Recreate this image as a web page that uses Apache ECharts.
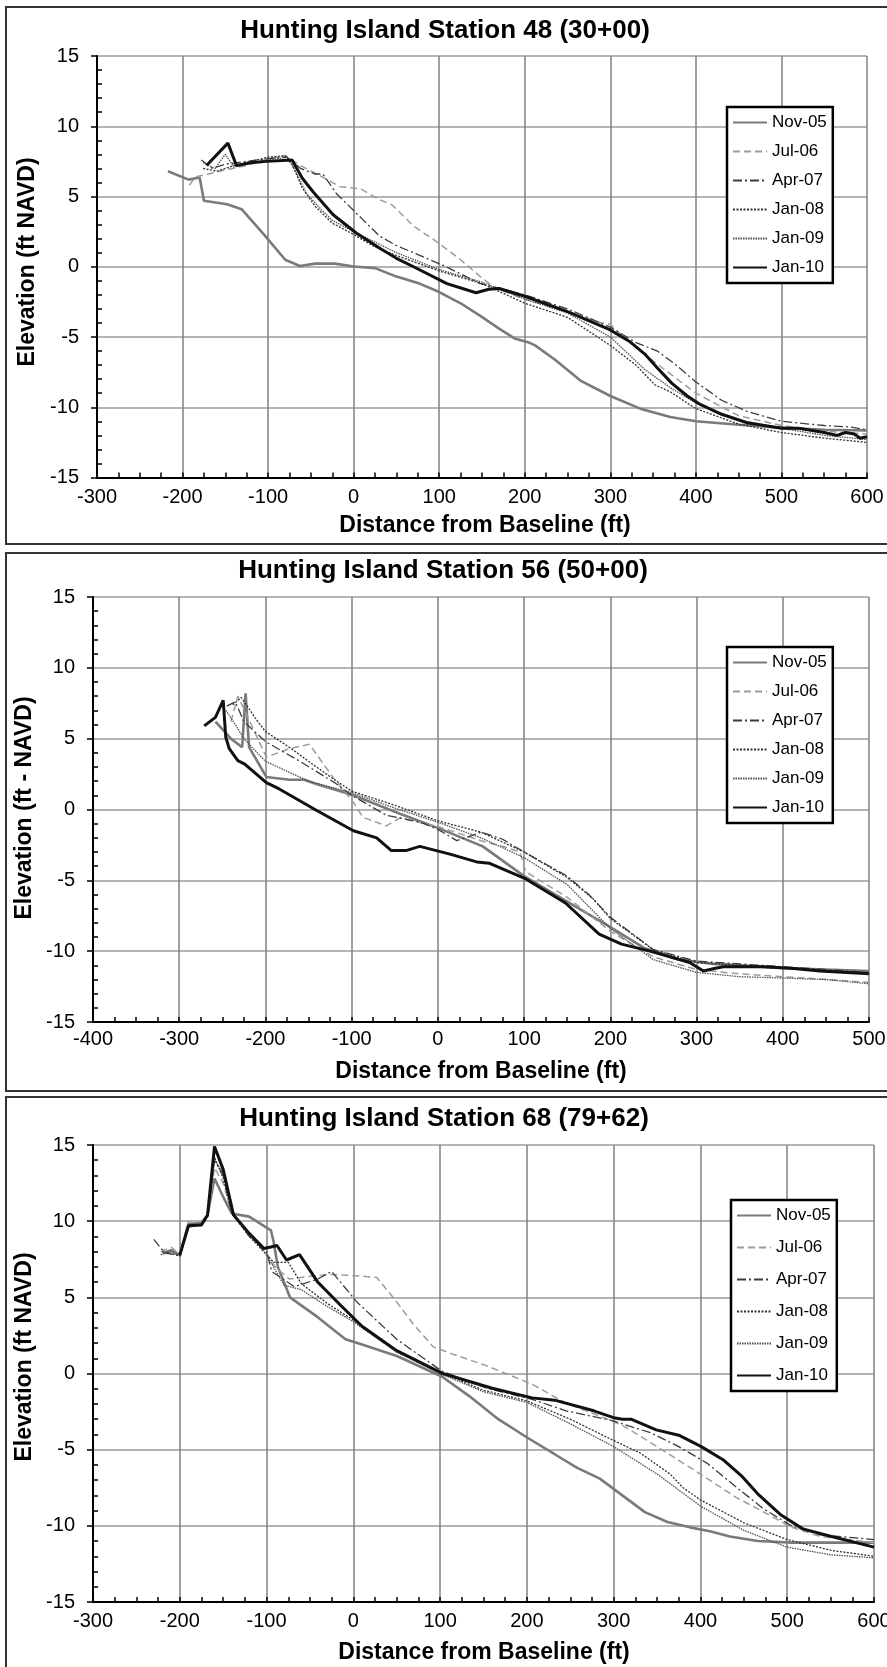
<!DOCTYPE html>
<html>
<head>
<meta charset="utf-8">
<script src="https://cdn.jsdelivr.net/npm/echarts@6/dist/echarts.min.js"></script>
<style>
html,body{margin:0;padding:0;background:#fff;}
#chart{width:887px;height:1667px;}
</style>
</head>
<body>
<div id="chart"></div>
<script>
// ---------- categories / tick labels ----------
const seriesNames = ['Nov-05', 'Jul-06', 'Apr-07', 'Jan-08', 'Jan-09', 'Jan-10'];
const yTicks = [-15, -10, -5, 0, 5, 10, 15];
const xTicks48 = [-300, -200, -100, 0, 100, 200, 300, 400, 500, 600];
const xTicks56 = [-400, -300, -200, -100, 0, 100, 200, 300, 400, 500];
const xTicks68 = [-300, -200, -100, 0, 100, 200, 300, 400, 500, 600];
const titles = ['Hunting Island Station 48 (30+00)', 'Hunting Island Station 56 (50+00)', 'Hunting Island Station 68 (79+62)'];
const yTitles = ['Elevation (ft NAVD)', 'Elevation (ft - NAVD)', 'Elevation (ft NAVD)'];
const xTitle = 'Distance from Baseline (ft)';

// ---------- Station 48 ----------
const nov05_48 = [[-217,6.8],[-193,6.2],[-180,6.35],[-175,4.7],[-148,4.45],[-131,4.1],[-105,2.3],[-80,0.5],[-63,0.05],[-45,0.22],[-22,0.22],[0,0.02],[25,-0.1],[50,-0.7],[75,-1.15],[100,-1.8],[125,-2.6],[148,-3.5],[170,-4.4],[188,-5.1],[205,-5.4],[212,-5.6],[235,-6.6],[265,-8.1],[300,-9.2],[335,-10.1],[370,-10.7],[400,-11.0],[450,-11.25],[500,-11.45],[550,-11.6],[600,-11.65]];
const jul06_48 = [[-192,5.8],[-185,6.4],[-170,6.6],[-150,6.9],[-125,7.2],[-100,7.7],[-80,7.9],[-62,7.2],[-40,6.5],[-16,5.7],[8,5.55],[31,4.75],[45,4.4],[70,2.9],[99,1.7],[125,0.5],[148,-0.7],[165,-1.5],[200,-2.3],[250,-3.2],[290,-4.0],[300,-4.1],[312,-4.8],[350,-6.7],[400,-9.0],[450,-10.6],[500,-11.3],[550,-11.7],[600,-11.9]];
const apr07_48 = [[-178,7.6],[-165,7.0],[-150,7.3],[-125,7.5],[-100,7.7],[-78,7.8],[-62,7.0],[-45,6.6],[-36,6.6],[-20,5.2],[0,4.0],[30,2.2],[50,1.5],[70,1.0],[108,0.0],[148,-1.2],[175,-1.6],[200,-2.0],[250,-3.0],[300,-4.3],[330,-5.4],[355,-6.0],[375,-6.9],[400,-8.2],[430,-9.5],[460,-10.3],[500,-11.0],[550,-11.3],[580,-11.4],[600,-11.6]];
const jan08_48 = [[-176,7.0],[-160,6.8],[-140,7.2],[-120,7.5],[-100,7.8],[-80,7.9],[-72,7.3],[-60,5.6],[-45,4.3],[-25,3.1],[0,2.3],[25,1.4],[50,0.8],[100,-0.3],[150,-1.2],[200,-2.6],[250,-3.6],[300,-5.6],[330,-7.0],[352,-8.4],[370,-8.9],[400,-10.1],[450,-11.2],[500,-11.8],[550,-12.2],[600,-12.5]];
const jan09_48 = [[-176,7.4],[-162,7.0],[-150,8.0],[-140,7.1],[-120,7.4],[-100,7.6],[-78,7.8],[-68,6.8],[-55,5.2],[-40,4.2],[-25,3.3],[0,2.5],[50,1.0],[100,-0.2],[150,-1.1],[200,-2.3],[250,-3.3],[300,-5.0],[340,-7.3],[370,-8.6],[400,-9.7],[450,-10.9],[500,-11.5],[550,-12.0],[600,-12.3]];
const jan10_48 = [[-172,7.2],[-147,8.8],[-137,7.2],[-120,7.4],[-102,7.5],[-72,7.6],[-60,6.3],[-47,5.3],[-24,3.7],[3,2.4],[31,1.3],[50,0.6],[70,0.0],[109,-1.2],[143,-1.85],[158,-1.6],[170,-1.55],[200,-2.1],[250,-3.2],[300,-4.5],[322,-5.3],[340,-6.2],[355,-7.2],[372,-8.3],[390,-9.2],[405,-9.8],[430,-10.5],[460,-11.1],[500,-11.5],[520,-11.5],[550,-11.8],[565,-12.0],[575,-11.8],[585,-11.9],[592,-12.2],[600,-12.1]];

// ---------- Station 56 ----------
const nov05_56 = [[-258,6.2],[-240,5.0],[-227,4.4],[-223,8.2],[-219,4.4],[-199,2.3],[-172,2.1],[-155,2.1],[-141,1.8],[-98,1.0],[-44,-0.3],[2,-1.35],[52,-2.6],[100,-4.7],[150,-6.5],[200,-8.3],[240,-9.8],[280,-10.6],[320,-10.9],[350,-11.0],[400,-11.2],[450,-11.3],[500,-11.4]];
const jul06_56 = [[-240,6.2],[-232,8.0],[-215,5.8],[-199,3.7],[-172,4.3],[-149,4.6],[-122,2.3],[-98,0.5],[-87,-0.55],[-60,-1.15],[-44,-0.6],[0,-1.2],[50,-2.2],[75,-2.6],[95,-3.0],[102,-4.4],[150,-6.2],[200,-8.6],[250,-10.4],[300,-11.3],[350,-11.6],[400,-11.8],[450,-12.0],[500,-12.2]];
const apr07_56 = [[-245,7.3],[-235,7.6],[-225,6.2],[-200,4.8],[-160,3.4],[-120,1.9],[-100,1.0],[-60,-0.4],[-20,-0.9],[0,-1.4],[22,-2.2],[50,-1.6],[75,-2.1],[100,-3.0],[150,-4.7],[175,-6.0],[200,-7.6],[250,-9.9],[300,-10.7],[350,-10.9],[400,-11.1],[450,-11.3],[500,-11.5]];
const jan08_56 = [[-238,7.4],[-228,7.9],[-210,6.3],[-200,5.5],[-170,4.3],[-150,3.4],[-120,2.1],[-100,1.3],[-50,0.3],[0,-0.8],[50,-1.6],[100,-3.0],[150,-4.8],[180,-6.3],[200,-7.7],[250,-9.9],[300,-10.8],[350,-11.0],[400,-11.2],[450,-11.4],[500,-11.5]];
const jan09_56 = [[-246,7.0],[-235,6.0],[-225,5.0],[-200,3.4],[-150,2.0],[-100,1.2],[-50,0.1],[0,-0.9],[50,-2.0],[100,-3.4],[150,-5.3],[200,-8.4],[250,-10.6],[300,-11.5],[350,-11.8],[400,-11.9],[450,-12.0],[500,-12.3]];
const jan10_56 = [[-271,5.9],[-258,6.5],[-249,7.7],[-246,5.1],[-242,4.3],[-232,3.45],[-224,3.2],[-199,1.9],[-184,1.45],[-141,-0.05],[-98,-1.5],[-71,-2.0],[-54,-2.9],[-37,-2.9],[-21,-2.6],[14,-3.15],[45,-3.7],[60,-3.8],[102,-4.9],[148,-6.6],[187,-8.8],[213,-9.5],[246,-10.0],[292,-10.8],[308,-11.4],[322,-11.2],[331,-11.1],[377,-11.1],[410,-11.2],[443,-11.4],[500,-11.6]];

// ---------- Station 68 ----------
const nov05_68 = [[-220,7.9],[-210,8.1],[-200,7.8],[-190,9.8],[-175,9.9],[-168,10.4],[-160,12.8],[-150,11.6],[-140,10.5],[-120,10.3],[-95,9.4],[-92,8.7],[-87,7.0],[-73,5.0],[-41,3.7],[-28,3.1],[-9,2.25],[10,1.9],[50,1.15],[102,-0.2],[134,-1.5],[167,-3.0],[203,-4.3],[232,-5.3],[258,-6.2],[284,-6.9],[310,-8.0],[336,-9.1],[362,-9.75],[388,-10.1],[411,-10.35],[434,-10.7],[466,-11.0],[505,-11.1],[600,-11.1]];
const jul06_68 = [[-222,8.0],[-210,8.3],[-200,7.8],[-190,10.0],[-175,9.8],[-168,10.3],[-160,13.5],[-150,12.5],[-140,10.5],[-120,9.1],[-100,7.9],[-90,7.0],[-74,6.2],[-55,6.35],[-29,6.5],[-3,6.45],[27,6.3],[50,4.7],[69,3.25],[92,1.75],[115,1.26],[154,0.5],[206,-0.7],[245,-1.95],[284,-2.8],[310,-3.4],[343,-4.55],[375,-5.7],[408,-6.9],[440,-8.1],[473,-9.1],[505,-10.1],[538,-10.7],[600,-11.1]];
const apr07_68 = [[-230,8.8],[-217,7.9],[-200,7.75],[-190,9.6],[-175,9.8],[-168,10.2],[-160,14.0],[-150,13.0],[-140,10.6],[-120,9.0],[-100,8.0],[-94,6.7],[-68,5.7],[-41,6.2],[-25,6.7],[4,4.7],[50,2.25],[102,0.15],[154,-0.97],[206,-1.7],[245,-2.45],[297,-3.07],[343,-3.9],[375,-4.8],[408,-5.9],[440,-7.4],[473,-8.9],[505,-10.0],[538,-10.6],[600,-10.9]];
const jan08_68 = [[-220,8.0],[-210,7.9],[-200,7.7],[-190,9.7],[-175,9.8],[-168,10.4],[-160,14.2],[-150,12.8],[-140,10.5],[-120,9.0],[-100,7.8],[-92,7.3],[-75,7.3],[-60,5.9],[-30,4.6],[0,3.5],[50,1.5],[100,0.1],[150,-1.1],[200,-1.8],[250,-3.0],[300,-4.4],[330,-5.2],[350,-6.0],[365,-6.6],[380,-7.5],[400,-8.3],[450,-9.8],[500,-10.9],[550,-11.6],[600,-12.0]];
const jan09_68 = [[-222,7.8],[-210,8.0],[-200,7.7],[-190,9.8],[-175,9.8],[-168,10.3],[-160,14.0],[-150,13.2],[-140,10.6],[-120,9.2],[-100,7.8],[-80,5.8],[-60,5.5],[-30,4.4],[0,3.4],[50,1.4],[100,0.0],[150,-1.2],[200,-1.9],[250,-3.3],[300,-4.8],[350,-6.6],[400,-8.7],[450,-10.3],[500,-11.4],[550,-11.9],[600,-12.1]];
const jan10_68 = [[-200,7.75],[-190,9.7],[-175,9.75],[-168,10.4],[-160,14.9],[-150,13.4],[-138,10.4],[-120,9.2],[-103,8.2],[-95,8.3],[-88,8.4],[-77,7.45],[-62,7.8],[-41,6.0],[-15,4.5],[10,3.1],[50,1.5],[102,0.02],[160,-0.97],[206,-1.6],[232,-1.75],[277,-2.45],[300,-2.9],[310,-3.0],[320,-3.0],[349,-3.7],[375,-4.05],[401,-4.8],[427,-5.7],[447,-6.7],[466,-7.9],[492,-9.25],[518,-10.2],[551,-10.7],[600,-11.4]];

// ---------- layout / style ----------
const FONT = '"Liberation Sans", Arial, Helvetica, sans-serif';
const panels = [
  {grid:{left:97, top:56, width:770, height:421.5}, xTicks:xTicks48, xMargin:10, legend:{left:727, top:107, gap:12},
   title:[445,31], xT:[485,526], yT:[28,262], box:[6,7,900,537],
   data:[nov05_48, jul06_48, apr07_48, jan08_48, jan09_48, jan10_48]},
  {grid:{left:93, top:597, width:776, height:425}, xTicks:xTicks56, xMargin:7, legend:{left:727, top:647, gap:12},
   title:[443,571], xT:[481,1072], yT:[25,808], box:[6,553,900,538],
   data:[nov05_56, jul06_56, apr07_56, jan08_56, jan09_56, jan10_56]},
  {grid:{left:93, top:1145, width:781, height:457}, xTicks:xTicks68, xMargin:9, legend:{left:731, top:1200, gap:15},
   title:[444,1119], xT:[484,1653], yT:[25,1357], box:[6,1097,900,620],
   data:[nov05_68, jul06_68, apr07_68, jan08_68, jan09_68, jan10_68]}
];
const lineStyles = [
  {color:'#7a7a7a', width:2.6, type:'solid'},
  {color:'#9c9c9c', width:1.5, type:[7,4]},
  {color:'#3c3c3c', width:1.3, type:[9,3,2,3]},
  {color:'#303030', width:1.3, type:[2,1.5]},
  {color:'#505050', width:1.3, type:[1.5,1]},
  {color:'#111111', width:3, type:'solid'}
];

const grids = [], xAxes = [], yAxes = [], series = [], legends = [], graphics = [];
panels.forEach((p, i) => {
  grids.push(Object.assign({containLabel:false, outerBoundsMode:'none'}, p.grid));
  const xt = p.xTicks;
  xAxes.push({
    gridIndex:i, type:'value', min:xt[0], max:xt[xt.length-1], interval:xt[1]-xt[0],
    axisLine:{show:true, onZero:false, lineStyle:{color:'#000', width:2}},
    axisTick:{show:true, inside:true, length:5, lineStyle:{color:'#000', width:1.5}},
    minorTick:{show:true, splitNumber:4, length:5, lineStyle:{color:'#000', width:1.5}},
    splitLine:{show:true, showMinLine:false, lineStyle:{color:'#808080', width:1.5}},
    axisLabel:{margin:p.xMargin, fontSize:20, color:'#000', fontFamily:FONT, hideOverlap:false}
  });
  yAxes.push({
    gridIndex:i, type:'value', min:yTicks[0], max:yTicks[yTicks.length-1], interval:yTicks[1]-yTicks[0],
    axisLine:{show:true, onZero:false, lineStyle:{color:'#000', width:2}},
    axisTick:{show:true, inside:false, length:6, lineStyle:{color:'#000', width:1.5}},
    splitLine:{show:true, showMinLine:false, lineStyle:{color:'#b4b4b4', width:2}},
    axisLabel:{margin:18, fontSize:20, color:'#000', fontFamily:FONT}
  });
  yAxes.push({
    gridIndex:i, type:'value', position:'left', offset:0,
    min:yTicks[0], max:yTicks[yTicks.length-1], interval:yTicks[1]-yTicks[0],
    axisLine:{show:false, onZero:false}, axisTick:{show:false, inside:true},
    minorTick:{show:true, splitNumber:5, length:5, lineStyle:{color:'#000', width:1.5}},
    axisLabel:{show:false}, splitLine:{show:false}
  });
  p.data.forEach((d, k) => {
    series.push({
      name:seriesNames[k], type:'line', xAxisIndex:i, yAxisIndex:2*i,
      data:d, symbol:'none', showSymbol:false, smooth:false, z:2+(k===0?0:k===5?3:1),
      lineStyle:lineStyles[k], itemStyle:{color:lineStyles[k].color}
    });
  });
  legends.push({
    left:p.legend.left, top:p.legend.top, orient:'vertical',
    itemWidth:34, itemHeight:14, itemGap:p.legend.gap,
    padding:[7,6,7,5], borderColor:'#000', borderWidth:2.5, backgroundColor:'#fff',
    itemStyle:{opacity:0, borderWidth:0},
    textStyle:{fontSize:17, color:'#000', fontFamily:FONT},
    selectedMode:false, data:seriesNames, z:10
  });
  graphics.push({type:'rect', silent:true, z:-10, shape:{x:p.box[0], y:p.box[1], width:p.box[2], height:p.box[3]},
    style:{fill:'none', stroke:'#333', lineWidth:2}});
  graphics.push({type:'text', silent:true, x:p.title[0], y:p.title[1],
    style:{text:titles[i], x:0, y:0, align:'center', verticalAlign:'middle', textAlign:'center', textVerticalAlign:'middle',
      font:'bold 26px ' + FONT, fill:'#000'}});
  graphics.push({type:'text', silent:true, x:p.xT[0], y:p.xT[1],
    style:{text:xTitle, x:0, y:0, align:'center', verticalAlign:'middle', textAlign:'center', textVerticalAlign:'middle',
      font:'bold 23px ' + FONT, fill:'#000'}});
  graphics.push({type:'text', silent:true, x:p.yT[0], y:p.yT[1], rotation:Math.PI/2,
    style:{text:yTitles[i], x:0, y:0, align:'center', verticalAlign:'middle', textAlign:'center', textVerticalAlign:'middle',
      font:'bold 23px ' + FONT, fill:'#000'}});
});

const chart = echarts.init(document.getElementById('chart'), null, {renderer:'canvas'});
chart.setOption({
  animation:false,
  backgroundColor:'#fff',
  grid:grids, xAxis:xAxes, yAxis:yAxes, series:series, legend:legends, graphic:graphics
});
</script>
</body>
</html>
